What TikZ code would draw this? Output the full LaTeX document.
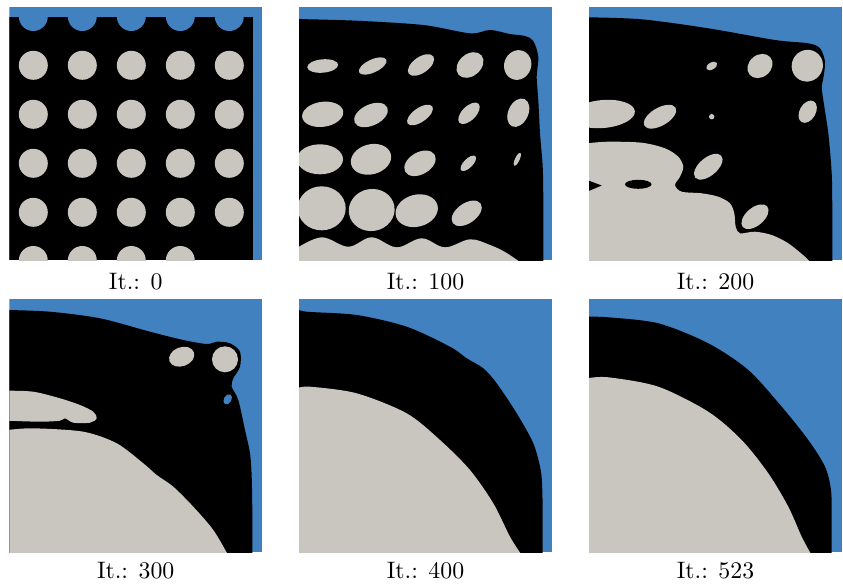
\documentclass[tikz,border=0pt]{standalone}
\definecolor{blu}{HTML}{4181BF}
\definecolor{gry}{HTML}{C8C6BE}
\newcommand{\gel}[5]{\fill[gry,shift={(#1,#2)},rotate=#5] (0,0) ellipse [x radius=#3, y radius=#4];}
\newcommand{\bel}[5]{\fill[blu,shift={(#1,#2)},rotate=#5] (0,0) ellipse [x radius=#3, y radius=#4];}
\begin{document}
\begin{tikzpicture}[x=0.42pt,y=-0.42pt,lab/.style={inner sep=0pt,anchor=center}]
\useasboundingbox (0,0) rectangle (843,587);
% ---------- Panel 1: It 0
\begin{scope}
\clip (9.5,7) rectangle (262,260);
\fill[blu] (9.5,7) rectangle (262,260);
\fill[black] (9.5,16.5) rectangle (253,260);
\foreach \x in {33.3,82.3,131.3,180.3,229.3} {\fill[blu] (\x,16.5) circle [radius=14.5];}
\foreach \y in {65.3,114.3,163.3,212.3} {
  \foreach \x in {33.3,82.3,131.3,180.3,229.3} {\fill[gry] (\x,\y) circle [radius=14.5];}
}
\foreach \x in {33.3,82.3,131.3,180.3} {\fill[gry] (\x,260.5) circle [radius=14.5];}
\end{scope}
% ---------- Panel 2: It 100
\begin{scope}
\clip (299,7) rectangle (552,260);
\fill[blu] (299,7) rectangle (552,260);
\fill[black] plot[smooth] coordinates {(297,19) (356.7,20.7) (423.3,25) (470,33.3) (490,30) (510,34) (525,36) (533.3,41) (538.3,56.7) (536.7,76.7) (538.3,100) (540,133) (542.7,166.7) (543.3,200) (543.3,262)} -- (297,262) -- cycle;
\gel{322.7}{66}{15.5}{6.7}{5}
\gel{372.7}{66}{15}{6.5}{25}
\gel{421}{65}{15}{8}{35}
\gel{470}{65}{15}{11}{40}
\gel{517.7}{65}{15}{13.5}{70}
\gel{322.7}{114.3}{20.7}{12.5}{8}
\gel{371}{115}{18}{10.5}{25}
\gel{420}{115}{15}{7}{35}
\gel{469}{113.3}{13.5}{7}{45}
\gel{518.3}{112.7}{15}{10}{65}
\gel{320}{159.3}{23}{15}{0}
\gel{371}{159.3}{20.5}{15}{15}
\gel{420}{163.3}{17}{11}{30}
\gel{468.3}{163.3}{10}{4.5}{45}
\gel{517.3}{159.3}{7}{2.3}{65}
\gel{321.7}{208.3}{24}{22}{0}
\gel{371.7}{210}{23}{21}{10}
\gel{416.7}{210.7}{21.5}{16}{15}
\gel{466.7}{213.3}{17}{10}{35}
\fill[gry] plot[smooth,tension=0.6] coordinates {(297,248) (321.7,237.3) (348.3,246.7) (371.7,237.3) (396.7,247.3) (421.7,238.3) (445,247.3) (470,239.3) (490,245) (505,252) (520,262)} -- (297,262) -- cycle;
\end{scope}
% ---------- Panel 3: It 200
\begin{scope}
\clip (589,7) rectangle (842,260);
\fill[blu] (589,7) rectangle (842,260);
\fill[black] plot[smooth] coordinates {(587,17.3) (641.7,19.3) (708.3,28.3) (775,40) (808.3,43.3) (820,48.3) (825,61.7) (823.3,78.3) (821.7,86.7) (823.3,100) (828.3,133.3) (831.7,173.3) (832.3,210) (832.3,262)} -- (587,262) -- cycle;
\gel{807.3}{65.7}{16}{15.5}{60}
\gel{760}{66}{13.5}{11}{40}
\gel{711.7}{66}{6}{3.5}{30}
\gel{711.7}{116.7}{2.7}{2.7}{0}
\gel{807.7}{111.7}{12}{8}{60}
\gel{603}{114}{32}{14}{5}
\gel{660}{116.7}{18}{9}{30}
\gel{708.3}{166.7}{17}{9}{40}
\gel{755}{216.7}{16}{9}{40}
\fill[gry] plot[smooth] coordinates {(587,143.3) (608.3,141.7) (641.7,142.7) (665,148.3) (678.3,156.7) (683.3,166.7) (680,176.7) (675,185) (681.7,191.7) (701.7,193.3) (718.3,196.7) (730,203.3) (734.3,213.3) (735.7,226.7) (740,233.3) (755,231.7) (771.7,235) (788.3,243.3) (805,256.7) (810,262)} -- (587,262) -- cycle;
\fill[black,shift={(638.3,184.3)}] (0,0) ellipse [x radius=13.3, y radius=4.5];
\fill[black] (587,180) -- (601.7,185.5) -- (587,191.7) -- cycle;
\end{scope}
% ---------- Panel 4: It 300
\begin{scope}
\clip (9.5,299) rectangle (262,552.3);
\fill[blu] (9.5,299) rectangle (262,552.3);
\fill[black] plot[smooth] coordinates {(7.5,310) (50,311.7) (100,318.3) (150,331.7) (183.3,340) (206.7,344) (216.7,341.7) (230,343.3) (240,351.7) (240,366.7) (233.3,378.3) (231.7,386.7) (238.3,400) (245,430) (250,453.3) (251.7,476.7) (252.3,510) (252.3,554)} -- (7.5,554) -- cycle;
\gel{225}{359.3}{13}{13}{0}
\gel{181.7}{356.7}{13}{9.5}{20}
\bel{227.7}{399.3}{5.5}{3.8}{60}
\fill[gry] plot[smooth] coordinates {(7.5,390.7) (33.3,391.7) (60,398.3) (80,405) (93.3,411.7) (96.7,418.3) (90,422.7) (73.3,422.7) (65,418.3) (60,420.7) (40,421.7) (7.5,420.7)} -- cycle;
\fill[gry] plot[smooth] coordinates {(7.5,430) (33.3,428.3) (83.3,431.7) (116.7,443.3) (143.3,463.3) (156.7,475) (173.3,486.7) (193.3,506.7) (213.3,530) (227.5,554)} -- (7.5,554) -- cycle;
\end{scope}
% ---------- Panel 5: It 400
\begin{scope}
\clip (299,299) rectangle (552,552.3);
\fill[blu] (299,299) rectangle (552,552.3);
\fill[black] plot[smooth] coordinates {(297,309) (306.7,311.7) (356.7,315) (406.7,326.7) (450,346.7) (466.7,358.3) (483.3,368.3) (496.7,383.3) (516.7,413.3) (533.3,443.3) (540.7,470) (542.3,490) (542.7,520) (542.7,554)} -- (297,554) -- cycle;
\fill[gry] plot[smooth] coordinates {(297,388.3) (310,386.7) (356.7,393.3) (406.7,413.3) (440,440) (470,470) (493.3,503.3) (510,536.7) (521,554)} -- (297,554) -- cycle;
\end{scope}
% ---------- Panel 6: It 523
\begin{scope}
\clip (589,299) rectangle (842,552.3);
\fill[blu] (589,299) rectangle (842,552.3);
\fill[black] plot[smooth] coordinates {(587,316.7) (608.3,317.3) (658.3,323.3) (708.3,343.3) (748.3,370) (781.7,406.7) (808.3,440) (825,466.7) (831,490) (831.7,520) (831.7,554)} -- (587,554) -- cycle;
\fill[gry] plot[smooth] coordinates {(587,378.3) (608.3,377.3) (658.3,386.7) (708.3,411.7) (741.7,440) (768.3,473.3) (788.3,506.7) (801.7,536.7) (811,554)} -- (587,554) -- cycle;
\end{scope}
% ---------- Labels
\node[lab] (l1) at (135.7,281.5) {It.: 0};
\node[lab] (l2) at (425.5,281.5) {It.: 100};
\node[lab] (l3) at (715.5,281.5) {It.: 200};
\node[lab] (l4) at (135.7,571) {It.: 300};
\node[lab] (l5) at (425.5,571) {It.: 400};
\node[lab] (l6) at (715.5,571) {It.: 523};
\end{tikzpicture}
\end{document}
